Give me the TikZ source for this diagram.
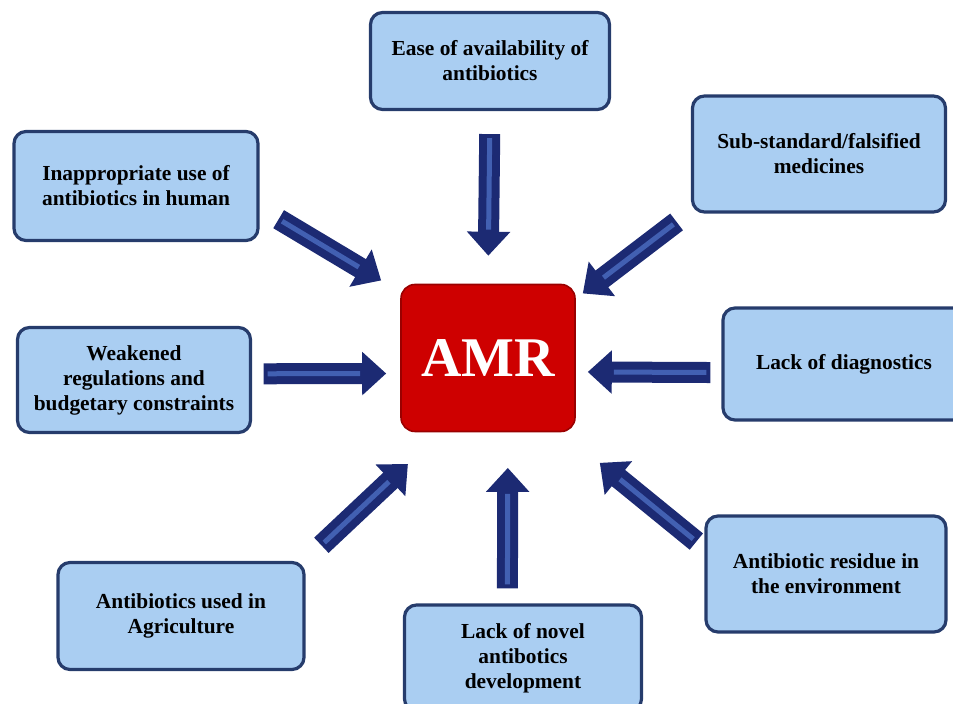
\documentclass[tikz,border=0pt]{standalone}
\usepackage{fontspec}
\setmainfont{Liberation Serif}
\usetikzlibrary{arrows.meta}
\definecolor{boxblue}{RGB}{170,206,242}
\definecolor{boxedge}{RGB}{38,60,108}
\definecolor{amrred}{RGB}{206,0,0}
\definecolor{navy}{RGB}{28,42,115}
\definecolor{navyhi}{RGB}{66,96,178}
\tikzset{
  cause/.style ={draw=boxedge, fill=boxblue, rounded corners=6pt,
                 line width=1.6pt, inner sep=0pt, align=center,
                 font=\bfseries\fontsize{10.7}{12.5}\selectfont},
  amrbox/.style={draw=amrred!75!black, fill=amrred, rounded corners=7pt,
                 line width=0.8pt, inner sep=0pt, text=white,
                 minimum width=87pt, minimum height=73.5pt,
                 font=\bfseries\fontsize{28}{30}\selectfont},
  push/.style  ={-{Triangle[length=12pt,width=21pt]}, line width=10.5pt,
                 navy},
  pushhi/.style={line width=2.5pt, navyhi},
}
\begin{document}
\begin{tikzpicture}[x=0.5pt,y=-0.5pt]
  \useasboundingbox (0,0) rectangle (953,704);
  \clip (0,0) rectangle (953,704);
  % central node
  \node[amrbox] (amr) at (488,358) {AMR};
  % causes
  \node[cause, minimum width=119.5pt, minimum height=48.5pt] (ease)
    at (490,61) {Ease of availability of\\antibiotics};
  \node[cause, minimum width=126.5pt, minimum height=58pt] (subst)
    at (819,154) {Sub-standard/falsified\\medicines};
  \node[cause, minimum width=122pt, minimum height=54.5pt] (inapp)
    at (136,186) {Inappropriate use of\\antibiotics in human};
  \node[cause, minimum width=116.5pt, minimum height=52.5pt] (weak)
    at (134,380) {Weakened\\regulations and\\budgetary constraints};
  \node[cause, minimum width=121pt, minimum height=56pt] (diag)
    at (844,364) {Lack of diagnostics};
  \node[cause, minimum width=120pt, minimum height=58pt] (resid)
    at (826,574) {Antibiotic residue in\\the environment};
  \node[cause, minimum width=123pt, minimum height=53.5pt] (agri)
    at (181,616) {Antibiotics used in\\Agriculture};
  \node[cause, minimum width=118.5pt, minimum height=53pt] (novel)
    at (523,658) {Lack of novel\\antibotics\\development};
  % arrows into AMR: source/anchor/AMR anchor/shorten start/shorten end
  \foreach \src/\sa/\ta/\ps/\pe in {
      ease/-90/90/11.5pt/14pt,
      subst/-156.5/34.9/9pt/4.4pt,
      inapp/-10.5/143.8/11.1pt/11.1pt,
      weak/3.9/-170.9/5.8pt/7pt,
      diag/-176.2/-9.1/5.5pt/6pt,
      resid/168.5/-45.5/5.2pt/24.2pt,
      agri/24.1/-122.7/11.4pt/23.1pt,
      novel/106.2/-75.5/7.5pt/17.8pt} {
    \draw[push, shorten <=\ps, shorten >=\pe] (\src.\sa) -- (amr.\ta);
    \draw[pushhi, shorten <=\ps+2pt, shorten >=\pe+13pt]
      (\src.\sa) -- (amr.\ta);
  }
\end{tikzpicture}
\end{document}
